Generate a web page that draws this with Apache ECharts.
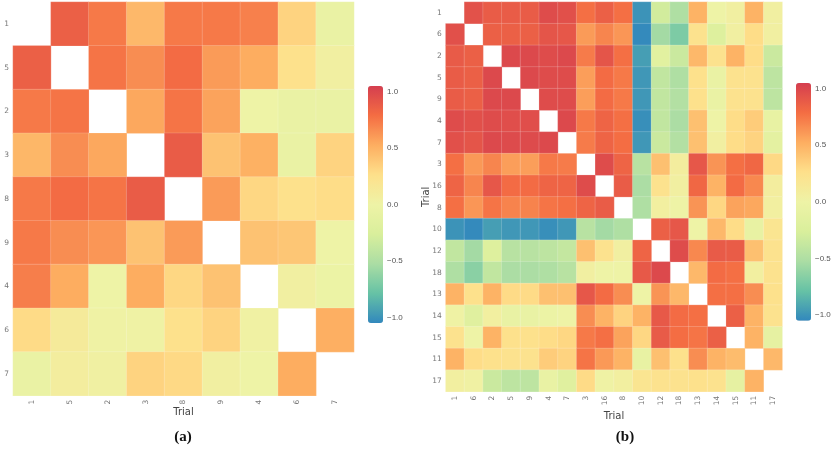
<!DOCTYPE html>
<html>
<head>
<meta charset="utf-8">
<script src="https://cdn.jsdelivr.net/npm/echarts@6/dist/echarts.min.js"></script>
<style>
html,body{margin:0;padding:0;background:#fff;}
#chart{width:833px;height:450px;}
</style>
</head>
<body>
<div id="chart"></div>
<script>
// ---- data ----
const trialsA = ['1','5','2','3','8','9','4','6','7'];
const corrA = [
  [null, 0.86, 0.74, 0.47, 0.74, 0.74, 0.71, 0.33, -0.05],
  [0.86, null, 0.76, 0.66, 0.80, 0.60, 0.53, 0.25, 0.05],
  [0.74, 0.76, null, 0.55, 0.76, 0.57, 0.00, -0.05, -0.05],
  [0.48, 0.66, 0.55, null, 0.88, 0.42, 0.51, -0.05, 0.33],
  [0.74, 0.80, 0.76, 0.88, null, 0.60, 0.31, 0.25, 0.28],
  [0.74, 0.66, 0.62, 0.42, 0.60, null, 0.42, 0.40, 0.00],
  [0.72, 0.53, 0.00, 0.53, 0.31, 0.42, null, 0.05, -0.03],
  [0.29, 0.12, 0.02, 0.02, 0.25, 0.33, 0.03, null, 0.52],
  [-0.05, 0.08, 0.04, 0.33, 0.30, 0.05, 0.00, 0.53, null]
];
const trialsB = ['1','6','2','5','9','4','7','3','16','8','10','12','18','13','14','15','11','17'];
const corrB = [
  [null, 0.94, 0.88, 0.88, 0.88, 0.97, 0.95, 0.78, 0.86, 0.78, -1.00, -0.30, -0.50, 0.50, 0.00, 0.05, 0.50, 0.05],
  [0.95, null, 0.86, 0.86, 0.86, 0.92, 0.91, 0.60, 0.69, 0.62, -1.04, -0.55, -0.70, 0.23, -0.20, 0.05, 0.28, 0.05],
  [0.89, 0.86, null, 0.99, 0.99, 0.97, 0.99, 0.73, 0.92, 0.78, -0.95, -0.15, -0.35, 0.47, 0.23, 0.50, 0.28, -0.35],
  [0.88, 0.86, 0.99, null, 0.99, 0.97, 0.97, 0.59, 0.80, 0.74, -0.98, -0.40, -0.50, 0.25, -0.05, 0.23, 0.23, -0.42],
  [0.88, 0.86, 0.99, 0.99, null, 0.97, 0.97, 0.59, 0.80, 0.74, -0.98, -0.40, -0.48, 0.25, -0.05, 0.23, 0.23, -0.42],
  [0.97, 0.95, 0.97, 0.96, 0.96, null, 0.99, 0.74, 0.84, 0.78, -1.02, -0.40, -0.52, 0.43, 0.00, 0.28, 0.37, -0.08],
  [0.95, 0.92, 0.99, 0.98, 0.98, 0.99, null, 0.73, 0.84, 0.79, -0.98, -0.35, -0.48, 0.43, 0.05, 0.28, 0.33, -0.12],
  [0.78, 0.61, 0.69, 0.59, 0.59, 0.74, 0.73, null, 0.97, 0.84, -0.45, 0.43, 0.08, 0.91, 0.63, 0.78, 0.82, 0.30],
  [0.84, 0.69, 0.91, 0.80, 0.80, 0.84, 0.84, 0.97, null, 0.88, -0.52, 0.23, 0.05, 0.82, 0.50, 0.80, 0.68, 0.08],
  [0.78, 0.62, 0.76, 0.70, 0.70, 0.76, 0.78, 0.84, 0.88, null, -0.50, 0.06, 0.00, 0.63, 0.31, 0.57, 0.55, 0.06],
  [-1.00, -1.04, -0.95, -0.98, -0.98, -1.02, -0.98, -0.45, -0.55, -0.50, null, 0.86, 0.91, 0.00, 0.47, 0.28, -0.08, 0.20],
  [-0.40, -0.55, -0.20, -0.45, -0.45, -0.42, -0.38, 0.43, 0.23, 0.05, 0.84, null, 0.97, 0.68, 0.89, 0.88, 0.43, 0.23],
  [-0.50, -0.65, -0.40, -0.52, -0.52, -0.50, -0.45, 0.05, 0.00, 0.00, 0.90, 0.99, null, 0.47, 0.80, 0.78, 0.06, 0.23],
  [0.50, 0.25, 0.50, 0.29, 0.29, 0.43, 0.43, 0.91, 0.80, 0.66, 0.00, 0.63, 0.47, null, 0.78, 0.78, 0.66, 0.25],
  [0.02, -0.18, 0.06, -0.06, -0.06, -0.02, 0.00, 0.66, 0.50, 0.33, 0.50, 0.90, 0.80, 0.78, null, 0.86, 0.50, 0.23],
  [0.23, 0.00, 0.50, 0.25, 0.25, 0.28, 0.31, 0.74, 0.78, 0.57, 0.31, 0.89, 0.79, 0.76, 0.86, null, 0.50, -0.10],
  [0.50, 0.28, 0.25, 0.23, 0.23, 0.37, 0.33, 0.76, 0.61, 0.50, -0.08, 0.43, 0.25, 0.66, 0.50, 0.45, null, 0.47],
  [0.06, 0.03, -0.35, -0.42, -0.42, -0.06, -0.18, 0.29, 0.02, 0.06, 0.20, 0.23, 0.23, 0.25, 0.23, -0.10, 0.50, null]
];
const colorbarTicks = [-1, -0.5, 0, 0.5, 1];
const colorRange = [-1.05, 1.05];
const spectral = ['#3288bd','#66c2a5','#abdda4','#d9ef9c','#eef3a6','#fee08b','#fdae61','#f46d43','#d53e4f'];

// ---- build ----
function toCells(m) {
  const out = [];
  m.forEach((row, r) => row.forEach((v, c) => { if (v !== null) out.push([c, r, v]); }));
  return out;
}
const grey = '#777';
const labelFont = 'DejaVu Sans';
function catX(data, gi, gap) {
  return {
    type: 'category', data: data, gridIndex: gi,
    axisLine: {show: false}, axisTick: {show: false}, splitLine: {show: false},
    axisLabel: {rotate: 90, color: grey, fontSize: 7.5, fontFamily: labelFont, margin: 4},
    name: 'Trial', nameLocation: 'middle', nameGap: gap, nameMoveOverlap: false,
    nameTextStyle: {color: '#444', fontSize: 10, fontFamily: labelFont}
  };
}
function catY(data, gi, gap) {
  return {
    type: 'category', data: data, gridIndex: gi, inverse: true,
    axisLine: {show: false}, axisTick: {show: false}, splitLine: {show: false},
    axisLabel: {color: grey, fontSize: 7.5, fontFamily: labelFont, margin: 4},
    name: 'Trial', nameLocation: 'middle', nameGap: gap, nameMoveOverlap: false,
    nameTextStyle: {color: '#444', fontSize: 10, fontFamily: labelFont}
  };
}
function cbX(gi) {
  return {type: 'value', gridIndex: gi, show: false, min: 0, max: 1};
}
function cbY(gi) {
  return {
    type: 'value', gridIndex: gi, position: 'right', min: colorRange[0], max: colorRange[1],
    axisLine: {show: false}, splitLine: {show: false},
    axisTick: {show: true, inside: true, length: 3, customValues: colorbarTicks, lineStyle: {color: '#fff', width: 1}},
    axisLabel: {customValues: colorbarTicks, color: '#555', fontSize: 8, fontFamily: 'Liberation Sans', margin: 4,
      formatter: v => (v < 0 ? '\u2212' : '') + Math.abs(v).toFixed(1)}
  };
}
const cellStyle = {borderColor: 'rgba(255,255,255,0.35)', borderWidth: 0.5};
const gridBase = {containLabel: false, outerBoundsMode: 'none'};

const option = {
  backgroundColor: '#fff',
  animation: false,
  grid: [
    Object.assign({left: 13, top: 2, width: 341, height: 393.7}, gridBase),
    Object.assign({left: 445.7, top: 2, width: 336.6, height: 389.7}, gridBase),
    Object.assign({left: 368, top: 86, width: 15, height: 237}, gridBase),
    Object.assign({left: 796, top: 83, width: 15, height: 237.7}, gridBase)
  ],
  xAxis: [catX(trialsA, 0, 12), catX(trialsB, 1, 20), cbX(2), cbX(3)],
  yAxis: [catY(trialsA, 0, 12), catY(trialsB, 1, 14), cbY(2), cbY(3)],
  visualMap: [
    {type: 'continuous', seriesIndex: 0, min: colorRange[0], max: colorRange[1], calculable: false, text: null,
     hoverLink: false, itemWidth: 15, itemHeight: 237, left: 368, top: 86, padding: 0, inRange: {color: spectral}},
    {type: 'continuous', seriesIndex: 1, min: colorRange[0], max: colorRange[1], calculable: false, text: null,
     hoverLink: false, itemWidth: 15, itemHeight: 237.7, left: 796, top: 83, padding: 0, inRange: {color: spectral}}
  ],
  series: [
    {type: 'heatmap', xAxisIndex: 0, yAxisIndex: 0, data: toCells(corrA), itemStyle: cellStyle},
    {type: 'heatmap', xAxisIndex: 1, yAxisIndex: 1, data: toCells(corrB), itemStyle: cellStyle}
  ],
  graphic: [
    {type: 'text', x: 183, y: 437, style: {text: '(a)', font: 'bold 15px "Liberation Serif"', fill: '#111', align: 'center', verticalAlign: 'middle'}},
    {type: 'text', x: 625, y: 437, style: {text: '(b)', font: 'bold 15px "Liberation Serif"', fill: '#111', align: 'center', verticalAlign: 'middle'}}
  ]
};
const chart = echarts.init(document.getElementById('chart'), null, {renderer: 'canvas'});
chart.setOption(option);
</script>
</body>
</html>
